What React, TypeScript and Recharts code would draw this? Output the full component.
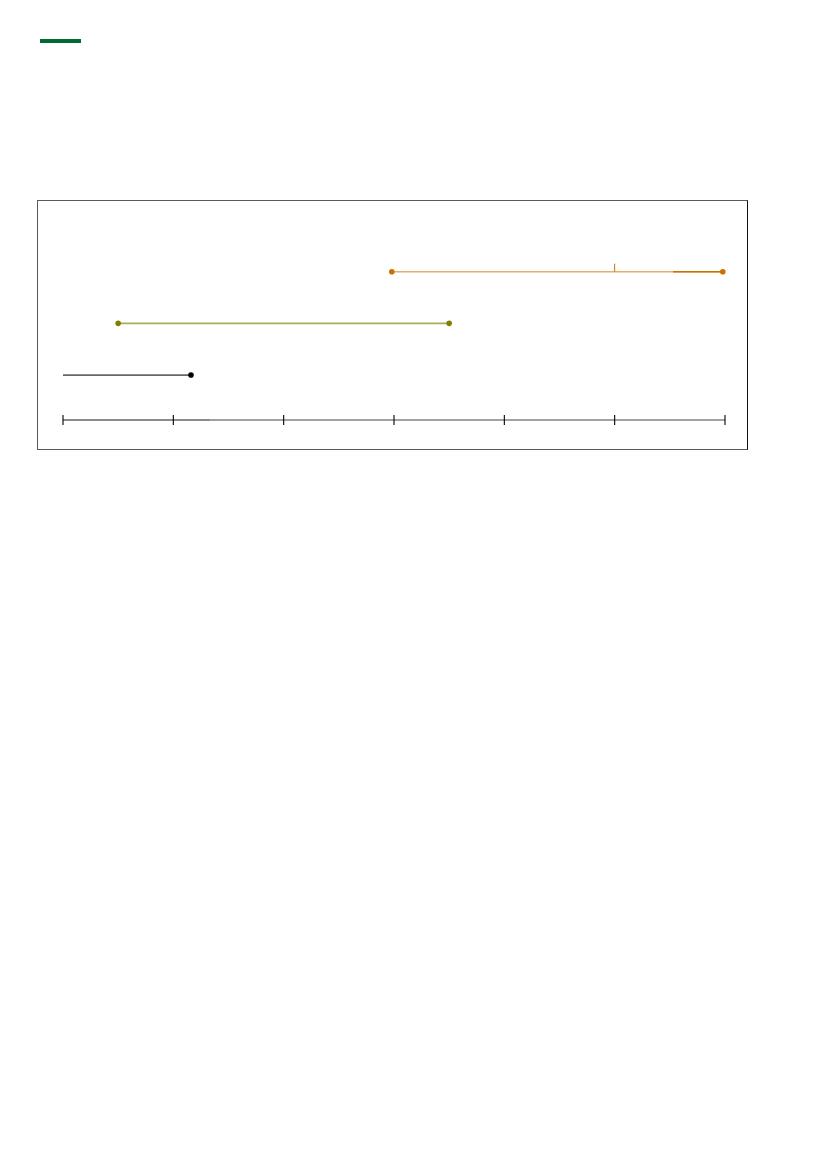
import {
  ComposedChart,
  Line,
  Scatter,
  XAxis,
  YAxis,
  ReferenceLine,
} from "recharts";

// x positions on the timeline axis
const TICKS = [0, 1, 2, 3, 4, 5, 6];

// lane values (bottom to top)
const BASE = 0.13;
const TOP = 4;

const blackLine = [
  { x: 0, y: 1 },
  { x: 1.16, y: 1 },
];

const oliveLine = [
  { x: 0.5, y: 2 },
  { x: 3.5, y: 2 },
];

const orangeLine = [
  { x: 2.98, y: 3 },
  { x: 5.98, y: 3 },
];

const orangeDone = [
  { x: 5.53, y: 3 },
  { x: 5.98, y: 3 },
];

const orangeMarks = [{ x: 5, y: 3 }];

const axisProgress = [
  { x: 0, y: BASE },
  { x: 1.33, y: BASE },
];

function dotAt(color: string, show: number[]) {
  return (props: any) => {
    const { cx, cy, index } = props;
    if (!show.includes(index)) return <g key={index} />;
    return <circle key={index} cx={cx} cy={cy} r={2.8} fill={color} stroke="none" />;
  };
}

const TickMark = (props: any) => {
  const { x, y } = props;
  return <line x1={x} x2={x} y1={y - 10} y2={y} stroke="#000" strokeWidth={1.1} />;
};

const MarkShape = (props: any) => {
  const { cx, cy } = props;
  return <line x1={cx} x2={cx} y1={cy - 8} y2={cy} stroke="#c87010" strokeWidth={1} />;
};

export default function App() {
  return (
    <div style={{ position: "absolute", left: 0, top: 0, width: 827, height: 1169 }}>
      <div
        style={{
          position: "absolute",
          left: 40,
          top: 39,
          width: 41,
          height: 4,
          background: "#006b33",
        }}
      />
      <div
        style={{
          position: "absolute",
          left: 37,
          top: 200,
          width: 709,
          height: 248,
          border: "1px solid #5a5a5a",
          borderRightColor: "#111",
        }}
      />
      <div style={{ position: "absolute", left: 37, top: 200 }}>
        <ComposedChart
          width={710}
          height={249}
          margin={{ top: 20, right: 22, bottom: 9, left: 26 }}
        >
          <XAxis
            dataKey="x"
            type="number"
            domain={[0, 6]}
            ticks={TICKS}
            height={20}
            tickSize={5}
            tickMargin={0}
            tickLine={false}
            tick={<TickMark />}
            axisLine={{ stroke: "#444", strokeWidth: 1 }}
          />
          <YAxis type="number" dataKey="y" domain={[BASE, TOP]} hide />
          <ReferenceLine
            segment={axisProgress}
            stroke="#c4c4c4"
            strokeWidth={1.5}
            ifOverflow="visible"
          />
          <Line
            data={blackLine}
            dataKey="y"
            stroke="#666"
            strokeWidth={1.8}
            dot={dotAt("#000", [1])}
            isAnimationActive={false}
          />
          <Line
            data={oliveLine}
            dataKey="y"
            stroke="#a7ad5c"
            strokeWidth={1.6}
            dot={dotAt("#808000", [0, 1])}
            isAnimationActive={false}
          />
          <Line
            data={orangeLine}
            dataKey="y"
            stroke="#e2b06a"
            strokeWidth={1.6}
            dot={dotAt("#cc7000", [0])}
            isAnimationActive={false}
          />
          <Line
            data={orangeDone}
            dataKey="y"
            stroke="#cc7000"
            strokeWidth={1.6}
            dot={dotAt("#cc7000", [1])}
            isAnimationActive={false}
          />
          <Scatter
            data={orangeMarks}
            dataKey="y"
            shape={<MarkShape />}
            isAnimationActive={false}
          />
        </ComposedChart>
      </div>
    </div>
  );
}
